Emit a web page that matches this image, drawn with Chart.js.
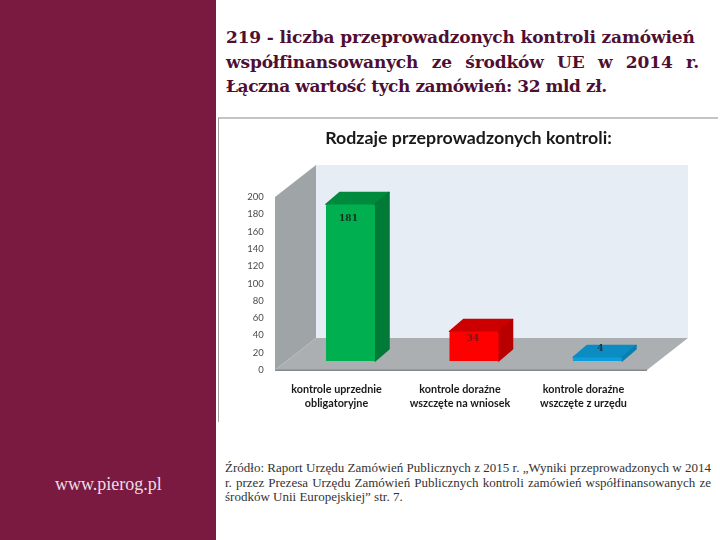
<!DOCTYPE html>
<html lang="pl">
<head>
<meta charset="utf-8">
<title>Rodzaje przeprowadzonych kontroli</title>
<script src="https://cdn.jsdelivr.net/npm/chart.js@4"></script>
<style>
  html, body { margin: 0; padding: 0; width: 720px; height: 540px; overflow: hidden; background: #fff; }
  #side { position: absolute; left: 0; top: 0; width: 216px; height: 540px; background: #7a1a41; }
  #site { position: absolute; left: 55px; top: 474px; color: #eadfe3; font: 18px "Liberation Serif", serif; }
  #head { position: absolute; left: 226px; top: 25px; width: 473px; color: #4f0f33;
          font: bold 17px/24.5px "DejaVu Serif", serif; letter-spacing: -0.15px; }
  #head div { text-align: justify; text-align-last: justify; white-space: nowrap; }
  #head div.first { width: 468px; }
  #head div.last { text-align-last: left; letter-spacing: -0.45px; }
  #source { position: absolute; left: 225px; top: 461px; width: 486px; color: #333;
            font: 13px/14.7px "Liberation Serif", serif; }
  #source div { text-align: justify; text-align-last: justify; white-space: nowrap; }
  #source div.last { text-align-last: left; }
  #wrap { position: absolute; left: 218px; top: 117px; width: 500px; height: 305px;
          border-top: 2px solid #c4c4c4; border-left: 1px solid #a0a0a0; box-sizing: border-box; }
  canvas { position: absolute; left: -1px; top: -2px; }
</style>
</head>
<body>
<div id="side"></div>
<div id="site">www.pierog.pl</div>
<div id="head">
  <div class="first">219 - liczba przeprowadzonych kontroli zamówień</div>
  <div>współfinansowanych ze środków UE w 2014 r.</div>
  <div class="last">Łączna wartość tych zamówień: 32 mld zł.</div>
</div>
<div id="wrap"><canvas id="kontrole" width="500" height="305"></canvas></div>
<div id="source">
  <div>Źródło: Raport Urzędu Zamówień Publicznych z 2015 r. „Wyniki przeprowadzonych w 2014</div>
  <div>r. przez Prezesa Urzędu Zamówień Publicznych kontroli zamówień współfinansowanych ze</div>
  <div class="last">środków Unii Europejskiej” str. 7.</div>
</div>
<script>
const chartTitle = "Rodzaje przeprowadzonych kontroli:";
const categories = [
  ["kontrole uprzednie", "obligatoryjne"],
  ["kontrole doraźne", "wszczęte na wniosek"],
  ["kontrole doraźne", "wszczęte z urzędu"],
];
const values = [181, 34, 4];
const yMax = 200;
const yStep = 20;

const frontColors = ["#00b050", "#ff0000", "#0a9fdc"];
const topColors = ["#008a3e", "#cc0000", "#0b8cc2"];
const sideColors = ["#007a37", "#b80000", "#0a7fb0"];
const labelColors = ["#12301f", "#7d1414", "#123a50"];
const labelDx = [-2, -1, 3];
const labelDy = [14, 7, -9];

// depth of the fake 3d box, in px
const wallX = 41, wallY = 32;
const barX = 14, barY = 12;
const floorDrop = 9; // bars stand this far behind the front floor edge

function poly(ctx, color, pts, round) {
  ctx.fillStyle = color;
  ctx.beginPath();
  pts.forEach((p, i) => (i ? ctx.lineTo(p[0], p[1]) : ctx.moveTo(p[0], p[1])));
  ctx.closePath();
  ctx.fill();
  if (round) {
    ctx.strokeStyle = color;
    ctx.lineWidth = 1.5;
    ctx.lineJoin = "round";
    ctx.stroke();
  }
}

const box3d = {
  id: "box3d",
  beforeDatasetsDraw(chart) {
    const { ctx, chartArea, scales } = chart;
    const y0 = scales.y.getPixelForValue(0) + floorDrop;
    const yTop = scales.y.getPixelForValue(yMax) + floorDrop;
    const xL = chartArea.left - 13.75;
    const xR = chartArea.right - 12.25;
    ctx.save();
    poly(ctx, "#e6edf4", [[xL + wallX, yTop - wallY], [xR + wallX, yTop - wallY], [xR + wallX, y0 - wallY], [xL + wallX, y0 - wallY]]);
    poly(ctx, "#9fa4a7", [[xL, yTop], [xL + wallX, yTop - wallY], [xL + wallX, y0 - wallY], [xL, y0]]);
    poly(ctx, "#abafb2", [[xL, y0], [xL + wallX, y0 - wallY], [xR + wallX, y0 - wallY], [xR, y0]]);
    ctx.fillStyle = "#85898c";
    ctx.fillRect(xL, y0 - 0.5, xR - xL, 1.5);
    // bar top and side faces
    chart.getDatasetMeta(0).data.forEach((bar, i) => {
      const half = bar.width / 2;
      const l = bar.x - half, r = bar.x + half;
      poly(ctx, topColors[i], [[l, bar.y], [l + barX, bar.y - barY], [r + barX, bar.y - barY], [r, bar.y]], true);
      poly(ctx, sideColors[i], [[r, bar.y], [r + barX, bar.y - barY], [r + barX, bar.base - barY], [r, bar.base]], true);
    });
    ctx.restore();
  },
  afterDatasetsDraw(chart) {
    const { ctx } = chart;
    ctx.save();
    ctx.textAlign = "center";
    ctx.textBaseline = "middle";
    ctx.font = 'bold 9px "DejaVu Serif", serif';
    chart.getDatasetMeta(0).data.forEach((bar, i) => {
      ctx.fillStyle = labelColors[i];
      ctx.fillText(String(values[i]), bar.x + labelDx[i], bar.y + labelDy[i]);
    });
    ctx.fillStyle = "#1a1a1a";
    ctx.font = 'bold 17.8px Lato, sans-serif';
    ctx.fillText(chartTitle, 250.5, 21);
    ctx.restore();
  },
};

Chart.defaults.devicePixelRatio = 1;

new Chart(document.getElementById("kontrole"), {
  type: "bar",
  data: {
    labels: categories,
    datasets: [{
      data: values,
      backgroundColor: frontColors,
      borderRadius: 2,
      barPercentage: 0.397,
      categoryPercentage: 1,
    }],
  },
  options: {
    responsive: false,
    animation: false,
    layout: { padding: { left: 20.75, right: 58.75, top: 71, bottom: 11 } },
    plugins: { legend: { display: false }, tooltip: { enabled: false } },
    scales: {
      x: {
        afterFit: (s) => { s.height = 50; },
        grid: { display: false, drawTicks: false },
        border: { display: false },
        ticks: {
          color: "#1a1a1a",
          font: { family: "Lato, sans-serif", size: 10.8, weight: "bold", lineHeight: 1.3 },
          padding: 21,
          labelOffset: -14,
          maxRotation: 0,
          autoSkip: false,
        },
      },
      y: {
        min: 0,
        max: yMax,
        afterFit: (s) => { s.width = 50; },
        grid: { display: false, drawTicks: false },
        border: { display: false },
        ticks: {
          stepSize: yStep,
          color: "#4a4a4a",
          font: { family: "Lato, sans-serif", size: 9.5 },
          padding: 25,
          labelOffset: floorDrop,
        },
      },
    },
  },
  plugins: [box3d],
});
</script>
</body>
</html>
